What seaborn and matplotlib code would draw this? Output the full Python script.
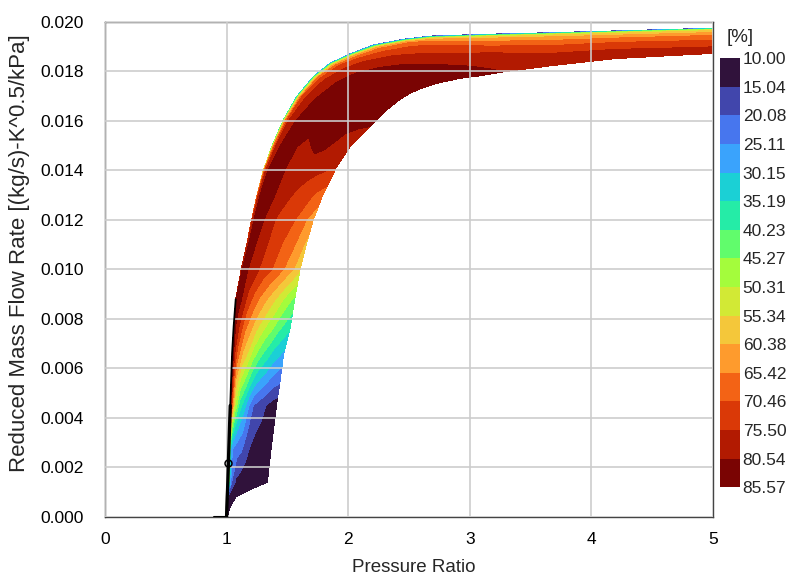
import numpy as np
import matplotlib
matplotlib.use("Agg")
import matplotlib.pyplot as plt
import seaborn as sns

# ---------------- data ----------------
# efficiency contour levels [%]
levels = [10.00, 15.04, 20.08, 25.11, 30.15, 35.19, 40.23, 45.27, 50.31,
          55.34, 60.38, 65.42, 70.46, 75.50, 80.54, 85.57]

# cross-sections of the map: one end on the upper (choke) edge, the other on the lower edge
upper_pr = [1.000, 1.002, 1.005, 1.008, 1.010, 1.018, 1.030, 1.037, 1.045, 1.058, 1.075,
            1.12, 1.165, 1.205, 1.25, 1.302, 1.371, 1.466, 1.576, 1.713, 1.850, 2.015,
            2.207, 2.453, 2.673, 3.10, 3.60, 4.20, 5.00]
upper_mf = [0.0000, 0.0004, 0.0008, 0.0011, 0.0014, 0.0027, 0.0045, 0.0055, 0.0066, 0.0077,
            0.0088, 0.0100, 0.0110, 0.0120, 0.0130, 0.0140, 0.01496, 0.01604, 0.01698,
            0.01779, 0.01833, 0.01871, 0.01907, 0.01930, 0.01943, 0.01950, 0.01956,
            0.01964, 0.01975]
lower_pr = [1.005, 1.03, 1.075, 1.19, 1.335, 1.365, 1.41, 1.44, 1.47, 1.525, 1.56,
            1.604, 1.655, 1.713, 1.79, 1.90, 2.015, 2.179, 2.316, 2.42, 2.508, 2.62,
            2.728, 2.919, 3.05, 3.30, 3.70, 4.20, 5.00]
lower_mf = [0.0000, 0.0004, 0.0008, 0.0011, 0.0014, 0.0027, 0.0045, 0.0055, 0.0066, 0.0077,
            0.0088, 0.0100, 0.0110, 0.0120, 0.0130, 0.0141, 0.01496, 0.01577, 0.01644,
            0.01685, 0.01712, 0.01735, 0.01752, 0.01772, 0.01780, 0.01800, 0.01825,
            0.01852, 0.01873]
# position across the band (0 = upper edge, 1 = lower edge)
across = [0, 0.02, 0.05, 0.1, 0.2, 0.3, 0.4, 0.5, 0.6, 0.7, 0.8, 0.9, 1.0]
# efficiency [%] along each cross-section
eff_rows = [
    [14, 12, 12, 12, 12, 12, 12, 12, 12, 12, 12, 12, 12],
    [30, 22, 16, 13, 12, 12, 12, 12, 12, 12, 12, 12, 12],
    [45, 32, 22, 15, 13, 12, 12, 12, 12, 12, 12, 12, 12],
    [55, 40, 26, 18, 13.5, 12.5, 12, 12, 12, 12, 12, 12, 12],
    [60, 45, 30, 20, 14, 12.5, 12, 12, 12, 12, 11.5, 11.5, 11.5],
    [72, 45, 28, 24, 22, 20.5, 17, 14.5, 13, 12.5, 12, 11.5, 11],
    [82, 76, 64, 50, 38, 32, 25.5, 20, 18, 16.5, 14.5, 13, 12],
    [83.5, 79, 70, 59.5, 49, 43.5, 37, 32, 29, 26.8, 24, 22.3, 21],
    [85, 82, 75.5, 69, 60, 55, 48.5, 44, 40, 37, 33.5, 31.5, 29],
    [82.5, 82, 79, 75, 67, 62, 57, 53, 49, 46, 42, 39, 36.5],
    [80, 82, 82.5, 80.5, 74, 69, 65, 61.5, 58, 54.5, 50.5, 47, 44],
    [78, 81, 82.5, 81, 78, 75.5, 73, 71, 68.5, 66, 63, 60, 56],
    [74, 79.5, 82.2, 82, 79.2, 76.8, 74, 72.2, 70.2, 68.2, 65.8, 62.5, 59],
    [70, 78, 82, 83, 80.5, 78, 75, 73.5, 72, 70.5, 68.5, 65, 62],
    [65, 75.5, 81, 82.7, 82, 80, 77.5, 76, 74.5, 73, 71.5, 69.5, 68],
    [55, 72, 80, 82, 83, 80.5, 78.5, 78, 77.5, 77, 76.5, 76, 75.5],
    [42, 66, 76, 80.5, 82.5, 81, 79, 80.5, 82, 81, 79, 77.5, 76],
    [38, 62, 74, 79.5, 82, 83, 83, 82.5, 82, 81.5, 81.5, 81, 80.5],
    [32, 55, 70, 76, 80.5, 83, 84, 84, 84, 83.5, 83, 82, 81.5],
    [28, 50, 66, 74, 79, 81.5, 83, 84, 84, 84, 83.5, 83, 82],
    [25, 46, 63, 71, 77, 80, 82, 83.5, 84, 84, 83.5, 83, 82],
    [22, 42, 60, 69, 75, 78.5, 80.5, 82, 83, 83, 83, 82.5, 82],
    [20, 38, 58, 67, 72.5, 76, 78.5, 80.5, 81.5, 82, 82, 82, 81.5],
    [18, 38, 58, 67, 71.5, 74, 76.5, 78.5, 80, 81, 81.5, 81.5, 81],
    [17, 36, 56, 64, 69.5, 72.5, 75, 77, 79, 80.3, 81, 81.2, 81],
    [16, 35, 52, 60, 66, 70, 73, 75.5, 77, 78.5, 79.5, 80.2, 80.5],
    [15, 35, 52, 59, 64, 67.5, 70.5, 73, 75, 76.5, 77.5, 78.5, 79.3],
    [15, 34, 50, 57, 63, 67, 70, 72.5, 74.5, 76, 77, 78, 78.8],
    [15, 33, 48, 56, 62, 66, 68.5, 71, 73, 74.8, 76.5, 77.5, 78.5],
]

# black line along the low-flow edge and its end marker
base_pr = [0.90, 1.00]
base_mf = [0.0, 0.0]
marker_pr = [1.01]
marker_mf = [0.0022]

# ---------------- figure ----------------
sns.set_theme(style="whitegrid")
plt.rcParams['font.family'] = ['Liberation Sans', 'DejaVu Sans']

fig = plt.figure(figsize=(7.99, 5.81), dpi=100)
ax = fig.add_axes([0.1314, 0.1102, 0.761, 0.852])

up_pr = np.array(upper_pr); up_mf = np.array(upper_mf)
lo_pr = np.array(lower_pr); lo_mf = np.array(lower_mf)
tt = np.array(across)
X = up_pr[:, None] + tt[None, :] * (lo_pr - up_pr)[:, None]
Y = up_mf[:, None] + tt[None, :] * (lo_mf - up_mf)[:, None]
Z = np.array(eff_rows, dtype=float)

band_colors = [matplotlib.colormaps['turbo'](v) for v in np.linspace(0, 1, len(levels) - 1)]
cs = ax.contourf(X, Y, Z, levels=levels, colors=band_colors, zorder=1)

# black edge line
sns.lineplot(x=upper_pr[:7], y=upper_mf[:7], color='black', lw=2.4, sort=False,
             ax=ax, zorder=3)
sns.lineplot(x=upper_pr[6:11], y=upper_mf[6:11], color='black', lw=1.3, sort=False,
             ax=ax, zorder=3)
sns.lineplot(x=base_pr, y=base_mf, color='black', lw=1.5, sort=False, ax=ax, zorder=3)
ax.plot(marker_pr, marker_mf, 'o', mfc='none', mec='black', ms=5, mew=1.1, zorder=4)

ax.set_xlim(0, 5)
ax.set_ylim(0, 0.020)
ax.set_xticks([0, 1, 2, 3, 4, 5])
ax.set_xticklabels(['0', '1', '2', '3', '4', '5'])
yt = [0.000, 0.002, 0.004, 0.006, 0.008, 0.010, 0.012, 0.014, 0.016, 0.018, 0.020]
ax.set_yticks(yt)
ax.set_yticklabels([f"{v:.3f}" for v in yt])
ax.set_axisbelow(False)
ax.grid(True, color=(0.80, 0.80, 0.80), lw=1.3, alpha=0.9)
ax.tick_params(axis='both', direction='in', length=5, width=1, color='#333333',
               labelsize=12.5, labelcolor='black')
ax.tick_params(axis='y', pad=15)
ax.tick_params(axis='x', pad=11)
for s in ax.spines.values():
    s.set_visible(True)
    s.set_color('#444444')
    s.set_linewidth(1.0)

ax.set_xlabel('Pressure Ratio', fontsize=13.5,
              family=['Liberation Sans Narrow', 'Liberation Sans', 'DejaVu Sans'])
ax.set_ylabel('Reduced Mass Flow Rate [(kg/s)-K^0.5/kPa]', fontsize=16)
ax.xaxis.set_label_coords(0.508, -0.085)
ax.yaxis.set_label_coords(-0.123, 0.533)

# colorbar
cax = fig.add_axes([0.901, 0.1613, 0.025, 0.7384])
cb = fig.colorbar(cs, cax=cax, ticks=levels)
cax.invert_yaxis()
cb.outline.set_visible(False)
cax.set_yticklabels([f"{v:.2f}" for v in levels])
cax.tick_params(length=0, labelsize=12.5, pad=2)
fig.text(0.926, 0.935, '[%]', fontsize=13.5, ha='center', va='center')

fig.savefig('out.png', dpi=100)
